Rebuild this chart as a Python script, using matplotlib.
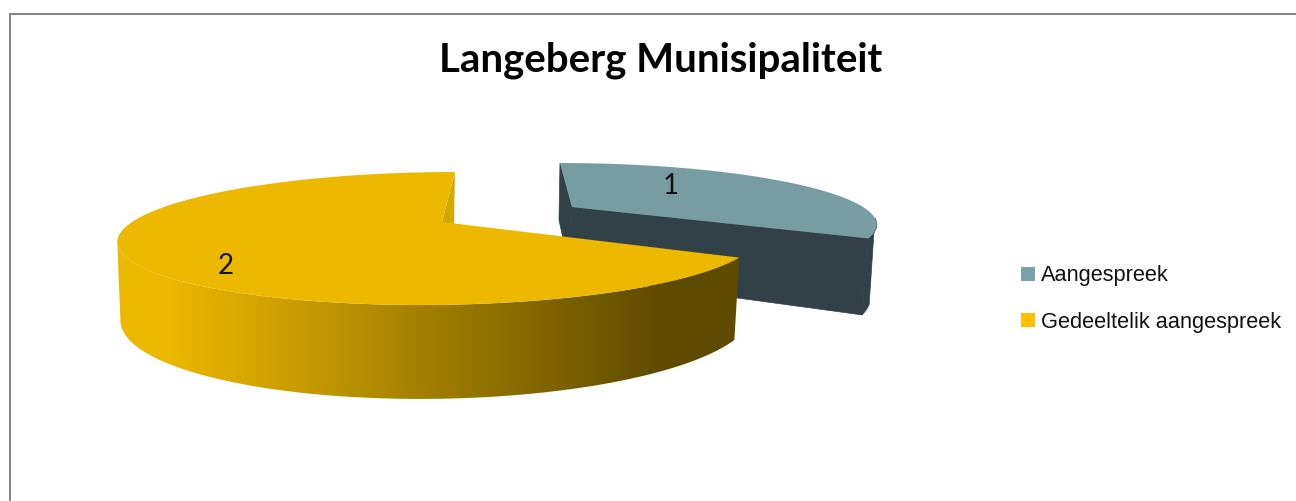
import numpy as np
import matplotlib
matplotlib.use("Agg")
import matplotlib.pyplot as plt
from matplotlib.patches import Patch, Polygon
from matplotlib.colors import LinearSegmentedColormap

# data
categories = ["Aangespreek", "Gedeeltelik aangespreek"]
values = [1, 2]
title = "Langeberg Munisipaliteit"

top_colors = ["#779DA2", "#EDB800"]
legend_colors = ["#7BA0A7", "#FFC000"]
dark_teal = "#324147"
inner_yellow = "#D4A800"

# perspective of each slice, in pixels (x0, y0, a, b, s)
K = 0.248
top_planes = [(572, 207, 291, 54.9, -15), (442, 222, 310, 62.4, 16.2)]
bottom_planes = [(571, 275.4, 285.7, 69.2, -15), (441, 295.6, 306, 77.7, 16)]
label_xy = [(671, 184), (226, 264)]
# where the side wall turns out of sight (degrees, clockwise from top)
right_turn_top = 101
right_turn_bottom = 112
left_turn = 252


def project(plane, theta, r=1.0):
    # theta in degrees, clockwise from the top of the pie
    x0, y0, a, b, s = plane
    u = r * np.sin(np.radians(theta))
    v = r * np.cos(np.radians(theta))
    w = 1 + K * v
    return x0 + (a * u + s * v) / w, y0 - b * v / w


def arc(plane, t0, t1):
    ts = np.linspace(t0, t1, 200)
    x, y = project(plane, ts)
    return np.column_stack([x, y])


fig = plt.figure(figsize=(12.96, 5.01), dpi=100)
ax = fig.add_axes([0, 0, 1, 1])
ax.axis("off")

edges = np.cumsum([0] + values) / sum(values) * 360

# slice 1 - dark sides first, then the top
t0, t1 = edges[0], edges[1]
top, bot = top_planes[0], bottom_planes[0]
side = dict(fc=dark_teal, ec=dark_teal, lw=0.5, zorder=1)
ax.add_patch(Polygon(np.vstack([arc(top, right_turn_top, t1), arc(bot, t1, right_turn_bottom)]), **side))
ax.add_patch(Polygon([project(top, t1), project(top, t1, 0), project(bot, t1, 0), project(bot, t1)], **side))
ax.add_patch(Polygon([project(top, t0), project(top, t0, 0), project(bot, t0, 0), project(bot, t0)], **side))
ax.add_patch(Polygon(np.vstack([[project(top, t0, 0)], arc(top, t0, t1)]), fc=top_colors[0], ec="none", zorder=2))

# slice 2 - gradient wall clipped to the rim outline
t0, t1 = edges[1], edges[2]
top, bot = top_planes[1], bottom_planes[1]
ax.add_patch(Polygon([project(top, t1), project(top, t1, 0), project(bot, t1, 0), project(bot, t1)], fc=inner_yellow, ec="none", zorder=3))
wall = Polygon(np.vstack([arc(top, t0, left_turn), arc(bot, left_turn, t0)]), fc="none", ec="none", transform=ax.transData)
ax.add_patch(wall)
cmap = LinearSegmentedColormap.from_list("wall", ["#EDB800", "#5F4B00"])
grad = np.clip((np.arange(1296) - 170) / 490, 0, 1)[None, :]
im = ax.imshow(grad, cmap=cmap, extent=(0, 1296, 501, 0), aspect="auto", zorder=4)
im.set_clip_path(wall)
ax.add_patch(Polygon(np.vstack([[project(top, t0, 0)], arc(top, t0, t1)]), fc=top_colors[1], ec="none", zorder=5))

ax.set_xlim(0, 1296)
ax.set_ylim(501, 0)

# value labels
for val, (lx, ly) in zip(values, label_xy):
    ax.text(lx, ly + 2, str(val), fontsize=20, family="Lato", ha="center", va="center", color="#111111", zorder=6)

ax.text(660.5, 60, title, fontsize=28.9, family="Lato", fontweight="bold", ha="center", va="center", color="black")

# chart border, only top and left show
ax.plot([10, 10, 1296], [501, 14, 14], color="#868686", lw=1.44, zorder=7, solid_joinstyle="miter")

handles = [Patch(fc=c, ec="none") for c in legend_colors]
ax.legend(handles, categories, loc="center left", bbox_to_anchor=(1021 / 1296, 1 - 299 / 501), frameon=False,
          prop={"family": "Liberation Sans", "size": 15.7}, handlelength=0.65, handleheight=0.65,
          handletextpad=0.27, labelspacing=1.15, borderpad=0, borderaxespad=0, labelcolor="#111111")

fig.savefig("out.png", dpi=100)
